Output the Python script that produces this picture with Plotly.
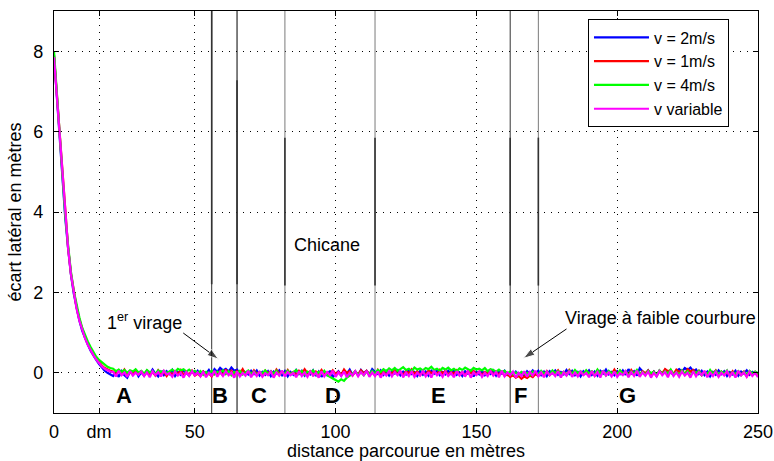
import numpy as np
import plotly.graph_objects as go

# Lateral offset (cm) sampled every metre along the track, 0..250 m
ecart_v2_cm = [
    790, 690, 585, 480, 385, 310, 245, 198, 160, 130, 105, 86, 70, 55, 42, 32, 22, 12, 5, 0, -4,
    -8, 2, -10, 4, -6, -12, 3, -5, 6, -9,
    1, -7, 5, -4, 8, -2, -9, 3, -6, 4,
    -3, 7, -8, 2, -5, 6, -1, -7, 4, -3,
    5, -6, 3, -2, 7, -4, 9, 2, 12, 6,
    10, 3, 13, 5, 8, -2, 6, 1, -4, 5,
    -3, 6, -7, 2, -5, 4, -8, 3, -2, 6,
    -6, 4, -9, 2, -5, 7, -3, 5, -7, 1,
    -4, 6, -8, 3, -10, 2, -6, 5, -11, -3,
    4, -7, 6, -2, 8, -5, 3, -6, 7, -1,
    5, -4, 9, 2, -3, 6, -5, 4, -7, 3,
    -2, 6, -6, 3, -4, 7, -3, 2, -8, 4,
    -5, 3, -7, 5, -2, 6, -6, 2, -4, 5,
    -3, 7, -5, 1, -8, 4, -2, 6, -9, 3,
    -4, 5, -6, 2, -3, 6, -7, 4, -2, 5,
    -5, 2, -6, 3, -4, 1, -7, 4, -3, 6,
    -2, 5, -6, 3, -8, 4, -1, 6, -5, 2,
    -4, 7, -3, 5, -6, 2, -9, 4, -2, 6,
    -5, 3, -7, 5, -2, 8, -4, 2, -6, 4,
    -3, 6, -5, 9, -2, 4, -7, 11, 3, -4,
    6, -5, 3, -8, 5, -2, 7, -4, 2, -6,
    5, 9, 3, 12, 7, 13, 4, 8, -3, 5,
    -6, 3, -9, 2, -5, 6, -3, 4, -8, 2,
    -4, 5, -7, 3, -2, 6, -5, 2, -3, 1,
]

ecart_v1_cm = [
    790, 692, 588, 482, 388, 312, 248, 200, 163, 133, 108, 88, 72, 58, 45, 35, 26, 18, 12, 8, 5,
    3, -4, 6, -2, 8, -5, 2, -3, 7, -1,
    4, -6, 5, -3, 2, -7, 6, -4, 3, -8,
    2, -5, 4, -3, 7, -6, 1, -4, 5, -7,
    -2, -8, 3, -6, -1, -9, 2, -5, 4, -7,
    8, -3, 5, -6, 4, -2, 9, -4, 3, -5,
    6, -3, 2, -7, 5, -1, 4, -6, 8, -2,
    3, -5, 7, -4, 2, -6, 5, -3, 9, -1,
    4, -6, 3, -2, 7, -5, 1, -4, 6, -3,
    2, -5, 8, -1, 4, -7, 3, -4, 6, -2,
    5, -3, 2, -6, 7, -4, 3, -5, 1, -2,
    6, -4, 3, -7, 5, -2, 8, -3, 4, -6,
    2, -5, 6, -1, 3, -4, 7, -2, 5, -6,
    3, -3, 6, -5, 2, -7, 4, -1, 5, -4,
    3, -6, 2, -3, 6, -5, 1, -4, 3, -7,
    -4, -10, -6, -12, -8, -15, -9, -13, -7, -11,
    -3, -8, 2, -5, 4, -6, 3, -2, 6, -4,
    2, -5, 7, -3, 4, -6, 1, -4, 5, -2,
    3, -7, 6, -1, 4, -5, 2, -3, 8, -4,
    5, -2, 3, -6, 7, -3, 2, -5, 4, -1,
    6, -4, 3, -7, 5, -2, 9, 4, 7, -3,
    8, 2, 6, -4, 9, 3, 7, -2, 5, -6,
    2, -5, 4, -3, 6, -7, 3, -4, 1, -6,
    4, -8, 2, -5, 3, -9, 1, -6, 2, -4,
]

ecart_v4_cm = [
    800, 695, 592, 486, 392, 318, 252, 205, 168, 138, 112, 93, 78, 64, 52, 40, 32, 26, 20, 15, 12,
    10, 4, 8, 2, 7, 0, 6, 3, 9, 1,
    5, -2, 7, 1, 4, -3, 6, 2, 5, -1,
    4, 8, 2, 10, 6, 9, 3, 8, 1, 5,
    -2, 4, -5, 2, -3, 5, -4, 3, -1, 6,
    -3, 4, -6, 2, -2, 5, -4, 1, 6, -3,
    3, -5, 2, -1, 6, -4, 4, -2, 5, -6,
    2, -3, 5, -4, 1, 7, -2, 4, -5, 3,
    -1, 6, -4, 2, -3, 5, -6, -9, -14, -18,
    -22, -16, -20, -12, -8, -3, 4, -5, 2, -6,
    3, -4, 5, -2, 7, 2, 9, 4, 11, 6,
    12, 5, 9, 14, 7, 10, 4, 13, 8, 11,
    6, 12, 9, 15, 7, 10, 5, 12, 8, 13,
    6, 10, 4, 11, 7, 13, 9, 5, 12, 8,
    10, 6, 12, 4, 9, 7, 3, 8, 2, 5,
    -2, 3, -4, 1, -5, 2, -3, 0, -6, 3,
    1, -4, 5, -2, 3, -5, 6, -1, 4, -3,
    2, -6, 5, -3, 7, -1, 4, -4, 6, -2,
    3, -5, 8, -2, 4, -6, 5, -1, 2, -4,
    6, -3, 4, -7, 3, -2, 7, -4, 2, -5,
    5, -1, 3, -6, 6, -3, 4, -2, 8, -4,
    2, -5, 6, -2, 4, -7, 3, -1, 5, -6,
    2, -4, 7, -3, 5, -5, 3, -2, 6, -7,
    1, -3, 4, -6, 2, -4, 5, -2, 3, -1,
]

ecart_var_cm = [
    785, 688, 586, 480, 386, 310, 246, 198, 160, 130, 106, 86, 70, 56, 44, 33, 24, 16, 10, 6, 3,
    2, -9, 5, -6, 1, -10, 4, -7, 0, -5,
    3, -8, 1, -11, 4, -6, 2, -9, 5, -4,
    -1, -10, 3, -7, 0, -12, 2, -8, 4, -6,
    1, -9, 3, -11, 0, -7, 5, -10, 2, -8,
    4, -6, 1, -12, 3, -9, 0, -7, 5, -11,
    2, -8, 4, -10, -1, -6, 3, -12, 1, -7,
    5, -9, 2, -6, 0, -11, 4, -8, 1, -10,
    3, -7, 0, -12, 4, -9, 2, -6, 5, -10,
    1, -8, 3, -11, 0, -7, 4, -9, 2, -6,
    5, -10, 1, -8, 3, -12, 0, -7, 4, -9,
    2, -6, 5, -11, 1, -8, 3, -10, 0, -7,
    4, -9, 2, -12, 5, -6, 1, -10, 3, -8,
    0, -11, 4, -7, 2, -9, 5, -12, 1, -6,
    3, -10, 0, -8, 4, -7, 2, -11, 5, -9,
    1, -6, 3, -12, 0, -8, 4, -10, 2, -7,
    5, -9, 1, -11, 3, -6, 0, -8, 4, -12,
    2, -7, 5, -10, 1, -9, 3, -6, 0, -11,
    4, -8, 2, -12, 5, -7, 1, -9, 3, -10,
    0, -6, 4, -11, 2, -8, 5, -10, 1, -7,
    3, -12, 0, -9, 4, -6, 2, -11, 5, -8,
    1, -10, 3, -7, 0, -12, 4, -9, 2, -6,
    5, -11, 1, -8, 3, -10, 0, -7, 4, -9,
    2, -12, 5, -6, 1, -10, 3, -8, 0, -11,
]

series_names = ["v = 2m/s", "v = 1m/s", "v = 4m/s", "v variable"]
series_colors = ["#0000ff", "#ff0000", "#00ff00", "#ff00ff"]
series_cm = [ecart_v2_cm, ecart_v1_cm, ecart_v4_cm, ecart_var_cm]

# Section boundaries along the track (m) and the darker marker segments on them
boundary_x = [56, 65, 82, 114, 162, 172]
boundary_colors = ["#333333", "#000000", "#7a7a7a", "#7a7a7a", "#333333", "#7a7a7a"]
marker_top = [9.0, 7.28, 5.85, 5.85, 5.85, 5.85]
marker_bottom = [2.2, 2.2, 2.17, 2.17, 2.17, 2.17]

section_labels = ["A", "B", "C", "D", "E", "F", "G"]
section_x = [25, 59, 72.8, 99, 136.4, 165.5, 203.5]
section_y = -0.57

# Pointer arrows: (tail x, tail y) -> (head x, head y)
arrow_tail_x = [45.9, 182.0]
arrow_tail_y = [0.99, 1.09]
arrow_head_x = [58.4, 166.7]
arrow_head_y = [0.34, 0.36]

x_tickvals = [0, 16, 50, 100, 150, 200, 250]
x_ticktext = ["0", "dm", "50", "100", "150", "200", "250"]
y_tickvals = [0, 2, 4, 6, 8]

FONT = "Liberation Sans, Arial, sans-serif"

fig = go.Figure()

for bx, bc in zip(boundary_x, boundary_colors):
    fig.add_trace(go.Scatter(x=[bx, bx], y=[-1, 9], mode="lines",
                             line=dict(color=bc, width=1),
                             showlegend=False, hoverinfo="skip"))
for bx, top, bot in zip(boundary_x, marker_top, marker_bottom):
    fig.add_trace(go.Scatter(x=[bx, bx], y=[bot, top], mode="lines",
                             line=dict(color="#333333", width=1.6),
                             showlegend=False, hoverinfo="skip"))

dist = np.arange(len(ecart_v2_cm))
for name, color, vals in zip(series_names, series_colors, series_cm):
    fig.add_trace(go.Scatter(x=dist, y=np.array(vals) / 100.0, mode="lines",
                             name=name, line=dict(color=color, width=2.2)))

# arrows drawn as a line with an oriented arrow marker at the head
for tx, ty, hx, hy in zip(arrow_tail_x, arrow_tail_y, arrow_head_x, arrow_head_y):
    fig.add_trace(go.Scatter(x=[tx, hx], y=[ty, hy], mode="lines+markers",
                             line=dict(color="black", width=1),
                             marker=dict(symbol="arrow", size=[0, 12], color="black",
                                         angleref="previous", standoff=0),
                             showlegend=False, hoverinfo="skip"))

for lab, lx in zip(section_labels, section_x):
    fig.add_annotation(x=lx, y=section_y, text="<b>%s</b>" % lab, showarrow=False,
                       font=dict(family=FONT, size=22, color="black"))

fig.add_annotation(x=96.8, y=3.19, text="Chicane", showarrow=False,
                   font=dict(family=FONT, size=18, color="black"))
fig.add_annotation(x=46.2, y=1.27, text="1<sup>er</sup> virage", showarrow=False,
                   xanchor="right", font=dict(family=FONT, size=18, color="black"))
fig.add_annotation(x=1.0, xref="paper", y=1.36, text="Virage à faible courbure",
                   showarrow=False, xanchor="right",
                   font=dict(family=FONT, size=18, color="black"))

axis_common = dict(
    showline=True, linecolor="black", linewidth=1.2, mirror="ticks",
    ticks="inside", ticklen=5, tickcolor="black", automargin=False,
    showgrid=True, gridcolor="black", gridwidth=1, griddash="1px,6px",
    zeroline=False, tickfont=dict(family=FONT, size=18, color="black"),
)

fig.update_xaxes(range=[0, 250], tickvals=x_tickvals, ticktext=x_ticktext,
                 ticklabelstandoff=2,
                 title=dict(text="distance parcourue en mètres", standoff=0,
                            font=dict(family=FONT, size=18, color="black")),
                 **axis_common)
fig.update_yaxes(range=[-1, 9], tickvals=y_tickvals, ticklabelstandoff=6,
                 title=dict(text="écart latéral en mètres", standoff=6,
                            font=dict(family=FONT, size=18, color="black")),
                 **axis_common)

fig.update_layout(
    width=774, height=461,
    margin=dict(l=54, r=16, t=11, b=48),
    paper_bgcolor="white", plot_bgcolor="white",
    font=dict(family=FONT, color="black"),
    legend=dict(x=0.7585, y=0.979, xanchor="left", yanchor="top",
                bgcolor="white", bordercolor="black", borderwidth=1,
                font=dict(family=FONT, size=16, color="black"),
                itemwidth=55, tracegroupgap=0),
)

fig.write_html("out.html")
